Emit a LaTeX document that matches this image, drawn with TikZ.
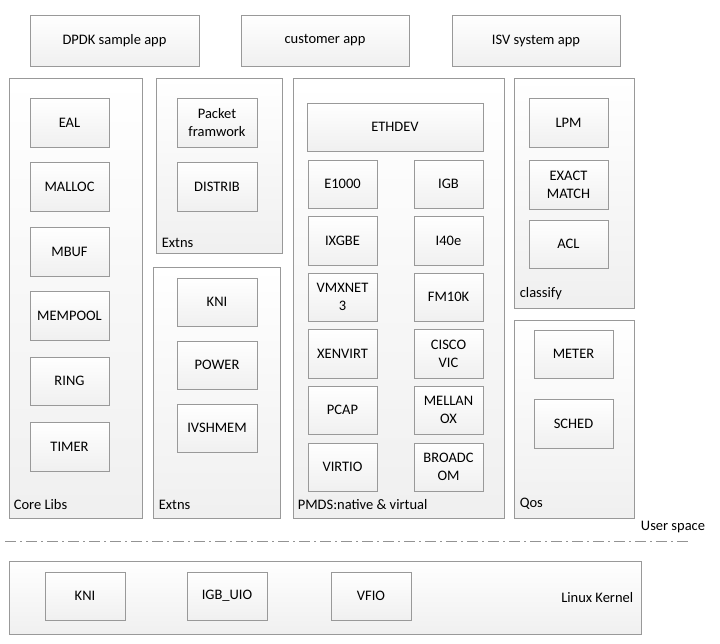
\documentclass[tikz,border=0pt]{standalone}
\usepackage{fontspec}
\setmainfont{Carlito}
\usetikzlibrary{shadows}
\tikzset{
  grp/.style={draw=gray!80, top color=white, bottom color=gray!12, line width=0.8pt,
    drop shadow={shadow xshift=1.2pt, shadow yshift=-1.2pt, fill=gray!60, opacity=0.5},
    inner sep=0pt},
  mod/.style={grp, align=center, font=\fontsize{14.5}{18}\selectfont},
  glabel/.style={font=\fontsize{14.5}{18}\selectfont, inner sep=0pt}
}

\begin{document}
\begin{tikzpicture}[x=1pt,y=-1pt]
    \useasboundingbox[fill=white] (0,0) rectangle (720,643);

    % applications
    \draw(114.5,40.5) node[mod, minimum width=169, minimum height=51] (sample) {DPDK sample app};
    \draw(325,40.5) node[mod, minimum width=168, minimum height=51] (cust) {customer app};
    \draw(536,40.5) node[mod, minimum width=168, minimum height=51] (isv) {ISV system app};

    % core libs
    \draw(75.5,298) node[grp, minimum width=133, minimum height=440] (core) {};
    \node[glabel, anchor=south west] (corelbl) at ([shift={(5,-9)}]core.south west) {Core Libs};
    \draw(69.5,122.5) node[mod, minimum width=79, minimum height=49] (eal) {EAL};
    \draw(69.5,186.5) node[mod, minimum width=79, minimum height=49] (malloc) {MALLOC};
    \draw(69.5,251.5) node[mod, minimum width=79, minimum height=49] (mbuf) {MBUF};
    \draw(69.5,315.5) node[mod, minimum width=79, minimum height=49] (mempool) {MEMPOOL};
    \draw(69.5,381) node[mod, minimum width=79, minimum height=48] (ring) {RING};
    \draw(69.5,446.5) node[mod, minimum width=79, minimum height=49] (timer) {TIMER};

    % extensions
    \draw(219,165.5) node[grp, minimum width=126, minimum height=175] (extA) {};
    \node[glabel, anchor=south west] (extAlbl) at ([shift={(6,-6)}]extA.south west) {Extns};
    \draw(217,122.5) node[mod, minimum width=80, minimum height=49] (pktfw) {Packet\\framwork};
    \draw(217,186.5) node[mod, minimum width=80, minimum height=49] (distrib) {DISTRIB};

    \draw(216.5,392.5) node[grp, minimum width=127, minimum height=251] (extB) {};
    \node[glabel, anchor=south west] (extBlbl) at ([shift={(6,-9)}]extB.south west) {Extns};
    \draw(217,302) node[mod, minimum width=80, minimum height=48] (kni) {KNI};
    \draw(217,365) node[mod, minimum width=80, minimum height=48] (power) {POWER};
    \draw(217,428) node[mod, minimum width=80, minimum height=48] (ivshmem) {IVSHMEM};

    % poll mode drivers
    \draw(398.5,298) node[grp, minimum width=211, minimum height=440] (pmds) {};
    \node[glabel, anchor=south west] (pmdslbl) at ([shift={(5,-9)}]pmds.south west) {PMDS:native \& virtual};
    \draw(395,127) node[mod, minimum width=176, minimum height=48] (ethdev) {ETHDEV};
    \draw(342.5,184) node[mod, minimum width=69, minimum height=48] (e1000) {E1000};
    \draw(342.5,240.5) node[mod, minimum width=69, minimum height=49] (ixgbe) {IXGBE};
    \draw(342.5,297) node[mod, minimum width=69, minimum height=48] (vmxnet) {VMXNET\\3};
    \draw(342.5,353.5) node[mod, minimum width=69, minimum height=49] (xenvirt) {XENVIRT};
    \draw(342.5,410) node[mod, minimum width=69, minimum height=48] (pcap) {PCAP};
    \draw(342.5,467) node[mod, minimum width=69, minimum height=48] (virtio) {VIRTIO};
    \draw(448.5,184) node[mod, minimum width=69, minimum height=48] (igb) {IGB};
    \draw(448.5,240.5) node[mod, minimum width=69, minimum height=49] (i40e) {I40e};
    \draw(448.5,297) node[mod, minimum width=69, minimum height=48] (fm10k) {FM10K};
    \draw(448.5,353.5) node[mod, minimum width=69, minimum height=49] (cisco) {CISCO\\VIC};
    \draw(448.5,410) node[mod, minimum width=69, minimum height=48] (mellanox) {MELLAN\\OX};
    \draw(448.5,467) node[mod, minimum width=69, minimum height=48] (broadcom) {BROADC\\OM};

    % classify
    \draw(574,193) node[grp, minimum width=120, minimum height=230] (classify) {};
    \node[glabel, anchor=south west] (classlbl) at ([shift={(6,-8)}]classify.south west) {classify};
    \draw(568.5,122.5) node[mod, minimum width=79, minimum height=49] (lpm) {LPM};
    \draw(568.5,184.5) node[mod, minimum width=79, minimum height=49] (exact) {EXACT\\MATCH};
    \draw(568.5,244) node[mod, minimum width=79, minimum height=48] (acl) {ACL};

    % qos
    \draw(574,419) node[grp, minimum width=120, minimum height=198] (qos) {};
    \node[glabel, anchor=south west] (qoslbl) at ([shift={(6,-9)}]qos.south west) {Qos};
    \draw(573.5,354) node[mod, minimum width=79, minimum height=48] (meter) {METER};
    \draw(573.5,423.5) node[mod, minimum width=79, minimum height=49] (sched) {SCHED};

    % user / kernel boundary
    \node[glabel] (uspace) at (673,527) {User space};
    \coordinate (sepL) at (5,541);
    \coordinate (sepR) at (690,541);
    \draw[gray!85, line width=0.9pt, dash pattern=on 11pt off 4pt on 2pt off 4pt] (sepL) -- (sepR);

    % kernel
    \draw(325,597.5) node[grp, minimum width=632, minimum height=73] (kernel) {};
    \node[glabel, anchor=east] (kernlbl) at ([xshift=-8pt]kernel.east) {Linux Kernel};
    \draw(85,596) node[mod, minimum width=80, minimum height=48] (kkni) {KNI};
    \draw(227,596) node[mod, minimum width=80, minimum height=48] (igbuio) {IGB\_UIO};
    \draw(371,596) node[mod, minimum width=80, minimum height=48] (vfio) {VFIO};

\end{tikzpicture}
\end{document}
